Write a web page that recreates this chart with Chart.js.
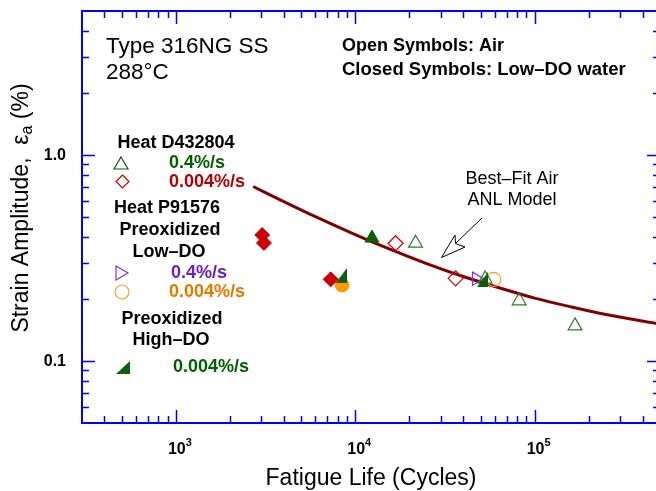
<!DOCTYPE html>
<html>
<head>
<meta charset="utf-8">
<script src="https://cdn.jsdelivr.net/npm/chart.js@4.4.1/dist/chart.umd.min.js"></script>
<style>
  html, body { margin: 0; padding: 0; background: #fff; overflow: hidden; }
  #wrap { width: 660px; height: 491px; }
</style>
</head>
<body>
<div id="wrap"><canvas id="fatigueChart" width="660" height="491"></canvas></div>
<script>
// axis ranges / tick labels
const xRange = [300, 500000];
const yRange = [0.05, 5];
const xMajorTicks = [1000, 10000, 100000];
const xTickExponents = ['3', '4', '5'];
const yMajorTicks = [0.1, 1];
const yTickLabels = ['0.1', '1.0'];

// Heat D432804, 0.4%/s (open = air, closed = low-DO water)
const d4FastAirN = [21700, 53000, 82000, 168000];
const d4FastAirEps = [0.373, 0.25, 0.196, 0.148];
const d4FastWaterN = [12400];
const d4FastWaterEps = [0.395];

// Heat D432804, 0.004%/s
const d4SlowAirN = [16800, 36300];
const d4SlowAirEps = [0.373, 0.252];
const d4SlowWaterN = [3030, 3100, 7300];
const d4SlowWaterEps = [0.409, 0.374, 0.249];

// Heat P91576, preoxidized low-DO
const p9FastAirN = [47300];
const p9FastAirEps = [0.251];
const p9SlowAirN = [59200];
const p9SlowAirEps = [0.249];
const p9SlowWaterN = [8450];
const p9SlowWaterEps = [0.234];

// preoxidized high-DO, 0.004%/s
const hiDoN = [8400, 51400];
const hiDoEps = [0.261, 0.25];

// best-fit air ANL model curve
const modelN = [2700, 4000, 6000, 10000, 15000, 25000, 40000, 60000, 100000, 160000, 250000, 500000];
const modelEps = [0.703, 0.594, 0.502, 0.411, 0.354, 0.297, 0.257, 0.230, 0.202, 0.183, 0.168, 0.151];

const FONT = "'Liberation Sans', Arial, sans-serif";
const GREEN = '#0b5e0b';
const RED = '#d40000';
const PURPLE = '#8a2be2';
const ORANGE = '#ff9a30';

function pts(xs, ys) {
    return xs.map((v, i) => ({ x: v, y: ys[i] }));
}

// right-angle "half" triangle used for the high-DO symbols
function halfTriangle(w, h, color) {
    const c = document.createElement('canvas');
    c.width = w;
    c.height = h;
    const g = c.getContext('2d');
    g.fillStyle = color;
    g.beginPath();
    g.moveTo(0, h);
    g.lineTo(w, h);
    g.lineTo(w, 0);
    g.closePath();
    g.fill();
    return c;
}

// minor tick values, 2..9 in every decade
function minorTicks(lo, hi) {
    const out = [];
    for (let e = -3; e <= 6; e++) {
        for (let m = 2; m <= 9; m++) {
            const v = m * Math.pow(10, e);
            if (v > lo * 1.0001 && v < hi * 0.9999) out.push(v);
        }
    }
    return out;
}

const frameAndLabels = {
    id: 'frameAndLabels',
    afterDraw(chart) {
        const { ctx, chartArea: a, scales: { x, y } } = chart;
        ctx.save();

        // inward ticks on all four sides
        ctx.strokeStyle = '#0000ff';
        ctx.lineWidth = 1.5;
        const tick = (px, len, vertical) => {
            ctx.beginPath();
            if (vertical) {
                ctx.moveTo(px, a.bottom); ctx.lineTo(px, a.bottom - len);
                ctx.moveTo(px, a.top); ctx.lineTo(px, a.top + len);
            } else {
                ctx.moveTo(a.left, px); ctx.lineTo(a.left + len, px);
                ctx.moveTo(a.right, px); ctx.lineTo(a.right - len, px);
            }
            ctx.stroke();
        };
        minorTicks(xRange[0], xRange[1]).forEach(v => tick(Math.round(x.getPixelForValue(v)) + 0.5, 7, true));
        xMajorTicks.forEach(v => tick(Math.round(x.getPixelForValue(v)) + 0.5, 13, true));
        minorTicks(yRange[0], yRange[1]).forEach(v => tick(Math.round(y.getPixelForValue(v)) + 0.5, 7, false));
        yMajorTicks.forEach(v => tick(Math.round(y.getPixelForValue(v)) + 0.5, 13, false));

        ctx.lineWidth = 2;
        ctx.strokeRect(a.left, a.top, a.right - a.left, a.bottom - a.top);

        // tick labels
        ctx.fillStyle = '#000';
        ctx.textBaseline = 'middle';
        xMajorTicks.forEach((v, i) => {
            const px = x.getPixelForValue(v);
            ctx.font = 'bold 16px ' + FONT;
            ctx.textAlign = 'center';
            ctx.fillText('10', px + 1, 450);
            const w = ctx.measureText('10').width;
            ctx.font = 'bold 11px ' + FONT;
            ctx.textAlign = 'left';
            ctx.fillText(xTickExponents[i], px + 1 + w / 2, 443);
        });
        ctx.font = 'bold 16px ' + FONT;
        ctx.textAlign = 'right';
        yMajorTicks.forEach((v, i) => {
            ctx.fillText(yTickLabels[i], 66, y.getPixelForValue(v) + 1);
        });

        // axis titles
        ctx.font = '23px ' + FONT;
        ctx.textAlign = 'center';
        ctx.fillText('Fatigue Life (Cycles)', 371, 479);

        ctx.save();
        ctx.translate(22, 208);
        ctx.rotate(-Math.PI / 2);
        const p1 = 'Strain Amplitude,  \u03b5';
        const p2 = 'a';
        const p3 = ' (%)';
        ctx.font = '23px ' + FONT;
        const w1 = ctx.measureText(p1).width;
        const w3 = ctx.measureText(p3).width;
        ctx.font = '16px ' + FONT;
        const w2 = ctx.measureText(p2).width;
        let sx = -(w1 + w2 + w3) / 2;
        ctx.textAlign = 'left';
        ctx.font = '23px ' + FONT;
        ctx.fillText(p1, sx, 0);
        ctx.font = '16px ' + FONT;
        ctx.fillText(p2, sx + w1, 6);
        ctx.font = '23px ' + FONT;
        ctx.fillText(p3, sx + w1 + w2, 0);
        ctx.restore();

        // annotations
        const text = (s, px, py, font, color, align) => {
            ctx.font = font;
            ctx.fillStyle = color;
            ctx.textAlign = align;
            ctx.fillText(s, px, py);
        };
        text('Type 316NG SS', 106, 47, '22.5px ' + FONT, '#000', 'left');
        text('288\u00b0C', 106, 73, '22.5px ' + FONT, '#000', 'left');
        text('Open Symbols: Air', 342, 46, 'bold 18px ' + FONT, '#000', 'left');
        text('Closed Symbols: Low\u2013DO water', 342, 70, 'bold 18.5px ' + FONT, '#000', 'left');

        const head = 'bold 18px ' + FONT;
        text('Heat D432804', 176, 143, head, '#000', 'center');
        text('Heat P91576', 167, 208, head, '#000', 'center');
        text('Preoxidized', 170, 230, head, '#000', 'center');
        text('Low\u2013DO', 169, 252, head, '#000', 'center');
        text('Preoxidized', 172, 319, head, '#000', 'center');
        text('High\u2013DO', 171, 340, head, '#000', 'center');

        text('0.4%/s', 169, 163, head, '#006000', 'left');
        text('0.004%/s', 169, 182, head, '#b00000', 'left');
        text('0.4%/s', 171, 273, head, '#6a1fc0', 'left');
        text('0.004%/s', 169, 292, head, '#e07b00', 'left');
        text('0.004%/s', 173, 367, head, '#006000', 'left');

        text('Best\u2013Fit Air', 512, 179, '18px ' + FONT, '#000', 'center');
        text('ANL Model', 512, 200, '18px ' + FONT, '#000', 'center');

        // legend symbols
        ctx.lineWidth = 1.2;
        ctx.strokeStyle = GREEN;
        ctx.beginPath();
        ctx.moveTo(121, 157); ctx.lineTo(128, 169); ctx.lineTo(114, 169); ctx.closePath();
        ctx.stroke();
        ctx.strokeStyle = RED;
        ctx.beginPath();
        ctx.moveTo(122.5, 175); ctx.lineTo(129, 181.5); ctx.lineTo(122.5, 188); ctx.lineTo(116, 181.5); ctx.closePath();
        ctx.stroke();
        ctx.strokeStyle = PURPLE;
        ctx.beginPath();
        ctx.moveTo(116, 266); ctx.lineTo(128, 273); ctx.lineTo(116, 280); ctx.closePath();
        ctx.stroke();
        ctx.strokeStyle = ORANGE;
        ctx.beginPath();
        ctx.arc(122, 292, 7, 0, Math.PI * 2);
        ctx.stroke();
        ctx.drawImage(halfTriangle(14, 13, GREEN), 116, 361);

        // arrow to the curve
        ctx.strokeStyle = '#000';
        ctx.lineWidth = 1;
        ctx.beginPath();
        ctx.moveTo(482, 218); ctx.lineTo(456, 243);
        ctx.stroke();
        ctx.fillStyle = '#fff';
        ctx.beginPath();
        ctx.moveTo(441.5, 257.5);
        ctx.lineTo(455, 235);
        ctx.lineTo(455.5, 243.5);
        ctx.lineTo(465, 247);
        ctx.closePath();
        ctx.fill();
        ctx.stroke();

        ctx.restore();
    }
};

const openStyle = (color, style, r, rot) => ({
    pointStyle: style,
    pointRadius: r,
    pointRotation: rot || 0,
    pointBorderColor: color,
    pointBackgroundColor: 'rgba(0,0,0,0)',
    pointBorderWidth: 1.2,
    showLine: false
});
const closedStyle = (color, style, r) => ({
    pointStyle: style,
    pointRadius: r,
    pointBorderColor: color,
    pointBackgroundColor: color,
    pointBorderWidth: 1,
    showLine: false
});

const ctx = document.getElementById('fatigueChart').getContext('2d');
const fatigueChart = new Chart(ctx, {
    type: 'scatter',
    data: {
        datasets: [
            Object.assign({ label: 'High-DO 0.004%/s', data: pts(hiDoN, hiDoEps), order: 0 },
                { pointStyle: halfTriangle(11, 15, GREEN), pointRadius: 8, showLine: false }),
            Object.assign({ label: 'D432804 0.4%/s water', data: pts(d4FastWaterN, d4FastWaterEps), order: 0 },
                closedStyle(GREEN, 'triangle', 8)),
            Object.assign({ label: 'D432804 0.4%/s air', data: pts(d4FastAirN, d4FastAirEps), order: 0 },
                openStyle('#2f7a2f', 'triangle', 8)),
            Object.assign({ label: 'P91576 0.4%/s air', data: pts(p9FastAirN, p9FastAirEps), order: 0 },
                openStyle(PURPLE, 'triangle', 7.5, 90)),
            Object.assign({ label: 'P91576 0.004%/s air', data: pts(p9SlowAirN, p9SlowAirEps), order: 0 },
                openStyle(ORANGE, 'circle', 7)),
            Object.assign({ label: 'D432804 0.004%/s air', data: pts(d4SlowAirN, d4SlowAirEps), order: 0 },
                openStyle(RED, 'rectRot', 7.5)),
            Object.assign({ label: 'D432804 0.004%/s water', data: pts(d4SlowWaterN, d4SlowWaterEps), order: 0 },
                closedStyle('#cc0000', 'rectRot', 7.5)),
            Object.assign({ label: 'P91576 0.004%/s water', data: pts(p9SlowWaterN, p9SlowWaterEps), order: 0 },
                closedStyle('#ff9900', 'circle', 7)),
            {
                label: 'Best-Fit Air ANL Model',
                data: pts(modelN, modelEps),
                showLine: true,
                borderColor: '#800000',
                borderWidth: 3,
                pointRadius: 0,
                cubicInterpolationMode: 'monotone',
                order: 1
            }
        ]
    },
    options: {
        responsive: false,
        animation: false,
        layout: { autoPadding: false, padding: { left: 82, top: 11, right: 0, bottom: 68 } },
        scales: {
            x: { type: 'logarithmic', min: xRange[0], max: xRange[1], display: false },
            y: { type: 'logarithmic', min: yRange[0], max: yRange[1], display: false }
        },
        plugins: {
            legend: { display: false },
            tooltip: { enabled: false }
        }
    },
    plugins: [frameAndLabels]
});
</script>
</body>
</html>
